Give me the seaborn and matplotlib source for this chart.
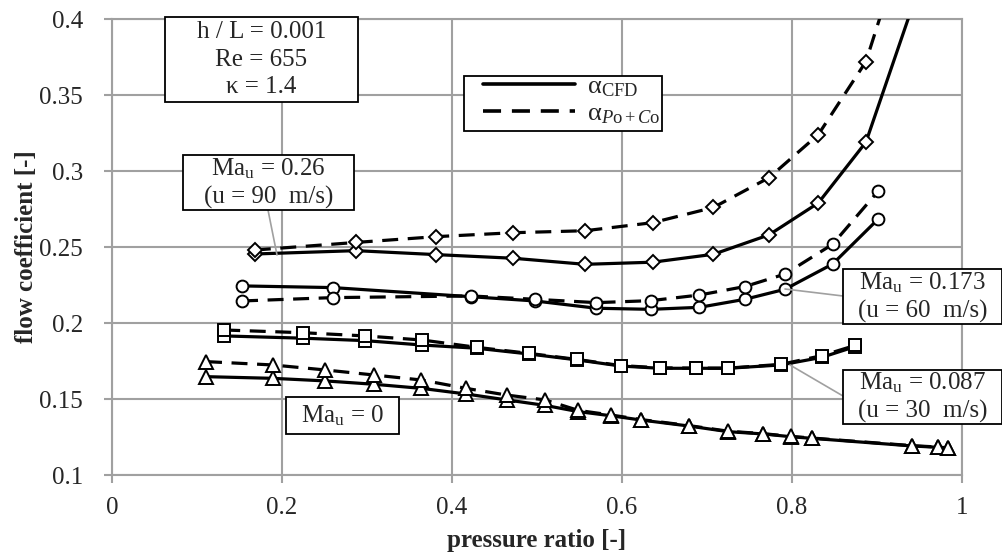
import numpy as np
import pandas as pd
import seaborn as sns
import matplotlib.pyplot as plt
from matplotlib.lines import Line2D
from matplotlib.patches import Rectangle
from matplotlib.ticker import FuncFormatter

# data (pressure ratio vs flow coefficient)
# Ma_u = 0.26 (diamonds); last point lies above the plotted range
dia_x_cfd = [0.168, 0.287, 0.381, 0.472, 0.5565, 0.636, 0.7075, 0.773, 0.831, 0.887, 0.955]
dia_y_cfd = [0.2454, 0.2476, 0.245, 0.2426, 0.2386, 0.240, 0.2452, 0.258, 0.279, 0.319, 0.43]
dia_x_poco = [0.168, 0.287, 0.381, 0.472, 0.5565, 0.636, 0.7075, 0.773, 0.831, 0.887, 0.92]
dia_y_poco = [0.248, 0.253, 0.2568, 0.2594, 0.2607, 0.266, 0.276, 0.2956, 0.324, 0.372, 0.43]

# Ma_u = 0.173 (circles)
cir_x = [0.153, 0.2596, 0.4224, 0.4976, 0.570, 0.6337, 0.691, 0.7447, 0.7918, 0.8478, 0.9016]
cir_y_cfd = [0.2244, 0.2233, 0.2173, 0.2145, 0.2097, 0.209, 0.2103, 0.2156, 0.2222, 0.2388, 0.2685]
cir_y_poco = [0.2145, 0.2167, 0.2178, 0.2156, 0.2134, 0.2147, 0.2184, 0.224, 0.2322, 0.2518, 0.2869]

# Ma_u = 0.087 (squares)
sq_x = [0.132, 0.225, 0.2976, 0.365, 0.429, 0.491, 0.5475, 0.5984, 0.6447, 0.687, 0.7243, 0.787, 0.835, 0.874]
sq_y_cfd = [0.1915, 0.1900, 0.1884, 0.1855, 0.1834, 0.1796, 0.1757, 0.1717, 0.1702, 0.1702, 0.1702, 0.1724, 0.1774, 0.1844]
sq_y_poco = [0.1954, 0.1936, 0.1915, 0.1888, 0.1840, 0.1800, 0.1760, 0.1720, 0.1705, 0.1703, 0.1703, 0.1728, 0.1785, 0.1852]

# Ma_u = 0 (triangles)
tri_x = [0.1106, 0.189, 0.251, 0.308, 0.364, 0.4165, 0.4643, 0.5094, 0.5486, 0.5867,
         0.622, 0.679, 0.725, 0.7663, 0.7984, 0.824, 0.9416, 0.972, 0.984]
tri_y_cfd = [0.1647, 0.1636, 0.1619, 0.1597, 0.157, 0.1533, 0.1494, 0.1458, 0.1417, 0.139,
             0.1362, 0.1322, 0.1285, 0.127, 0.1252, 0.1241, 0.1191, 0.1182, 0.1176]
tri_y_poco = [0.1746, 0.1724, 0.1691, 0.1658, 0.1625, 0.157, 0.1526, 0.1494, 0.1425, 0.1395,
              0.1365, 0.1325, 0.1288, 0.1272, 0.1254, 0.1243, 0.1193, 0.1184, 0.1178]

x_ticks = [0, 0.2, 0.4, 0.6, 0.8, 1]
y_ticks = [0.1, 0.15, 0.2, 0.25, 0.3, 0.35, 0.4]

series = [
    (dia_x_cfd, dia_y_cfd, 'D', 7, 'solid'),
    (dia_x_poco, dia_y_poco, 'D', 7, 'dash'),
    (cir_x, cir_y_cfd, 'o', 8.5, 'solid'),
    (cir_x, cir_y_poco, 'o', 8.5, 'dash'),
    (sq_x, sq_y_cfd, 's', 8.5, 'solid'),
    (sq_x, sq_y_poco, 's', 8.5, 'dash'),
    (tri_x, tri_y_cfd, '^', 9.5, 'solid'),
    (tri_x, tri_y_poco, '^', 9.5, 'dash'),
]

W, H = 1003, 552
sns.set_style("white")
plt.rcParams['font.family'] = ['Liberation Serif', 'DejaVu Serif']
plt.rcParams['mathtext.fontset'] = 'custom'
plt.rcParams['mathtext.rm'] = 'Liberation Serif'
plt.rcParams['mathtext.it'] = 'Liberation Serif:italic'

fig = plt.figure(figsize=(W / 100, H / 100), dpi=100)
ax = fig.add_axes([112 / W, 1 - 475 / H, 850 / W, 456 / H])

grey = '#a0a0a0'
dash_style = (0, (5, 3))
for xs, ys, mk, ms, ls in series:
    df = pd.DataFrame({'x': xs, 'y': ys})
    sns.lineplot(data=df, x='x', y='y', ax=ax, sort=False, estimator=None,
                 color='black', linewidth=2.3,
                 linestyle='-' if ls == 'solid' else dash_style,
                 marker=mk, markersize=ms, markerfacecolor='white',
                 markeredgecolor='black', markeredgewidth=1.4, zorder=3)

ax.set_xlim(0, 1)
ax.set_ylim(0.1, 0.4)
ax.set_xticks(x_ticks)
ax.set_yticks(y_ticks)
fmt = FuncFormatter(lambda v, p: '%g' % v)
ax.xaxis.set_major_formatter(fmt)
ax.yaxis.set_major_formatter(fmt)
ax.grid(True, color=grey, linewidth=1.5)
ax.set_axisbelow(True)
for s in ax.spines.values():
    s.set_color(grey)
    s.set_linewidth(1.5)
ax.tick_params(axis='both', which='major', labelsize=18, color=grey, width=1.5,
               length=6, direction='out')
ax.tick_params(axis='x', pad=10, bottom=True)
ax.tick_params(axis='y', pad=15, left=True)
ax.set_xlabel('pressure ratio [-]', fontsize=18, fontweight='bold', labelpad=7)
ax.set_ylabel('flow coefficient [-]', fontsize=18, fontweight='bold', labelpad=1)

# legend: frame drawn separately so the box matches the reference
fig.patches.append(Rectangle((464 / W, 1 - 131 / H), 198 / W, 55 / H,
                             transform=fig.transFigure, facecolor='white',
                             edgecolor='black', linewidth=1.3, zorder=5))
handles = [Line2D([], [], color='black', lw=2.6, linestyle='-'),
           Line2D([], [], color='black', lw=2.6, linestyle=dash_style)]
labels = ['α$_{\\mathrm{CFD}}$', 'α$_{P\\mathrm{o}+C\\mathrm{o}}$']
leg = fig.legend(handles, labels, loc='upper left',
                 bbox_to_anchor=(483 / W, 1 - 75 / H), fontsize=19,
                 handlelength=3.5, handletextpad=0.45, borderpad=0.0,
                 labelspacing=0.1, frameon=False, borderaxespad=0)
leg.set_zorder(6)


def box(x0, y0, x1, y1, text, fs=18):
    fig.patches.append(Rectangle((x0 / W, 1 - y1 / H), (x1 - x0) / W, (y1 - y0) / H,
                                 transform=fig.transFigure, facecolor='white',
                                 edgecolor='black', linewidth=1.3, zorder=5))
    fig.text((x0 + x1) / 2 / W, 1 - (y0 + y1) / 2 / H, text, ha='center', va='center',
             fontsize=fs, linespacing=1.3, zorder=6)


def leader(xa, ya, xb, yb):
    fig.add_artist(Line2D([xa / W, xb / W], [1 - ya / H, 1 - yb / H],
                          transform=fig.transFigure, color=grey, lw=1.2, zorder=4))


leader(268, 210, 277, 255)
leader(785, 289, 843, 296)
leader(790, 365, 843, 396)
box(165, 17, 358, 102, 'h / L = 0.001\nRe = 655\nκ = 1.4')
box(183, 155, 354, 210, 'Ma$_{\\mathrm{u}}$ = 0.26\n(u = 90  m/s)')
box(843, 269, 1002, 324, 'Ma$_{\\mathrm{u}}$ = 0.173\n(u = 60  m/s)')
box(843, 370, 1002, 424, 'Ma$_{\\mathrm{u}}$ = 0.087\n(u = 30  m/s)')
box(286, 397, 399, 434, 'Ma$_{\\mathrm{u}}$ = 0')

fig.savefig('out.png', dpi=100)
